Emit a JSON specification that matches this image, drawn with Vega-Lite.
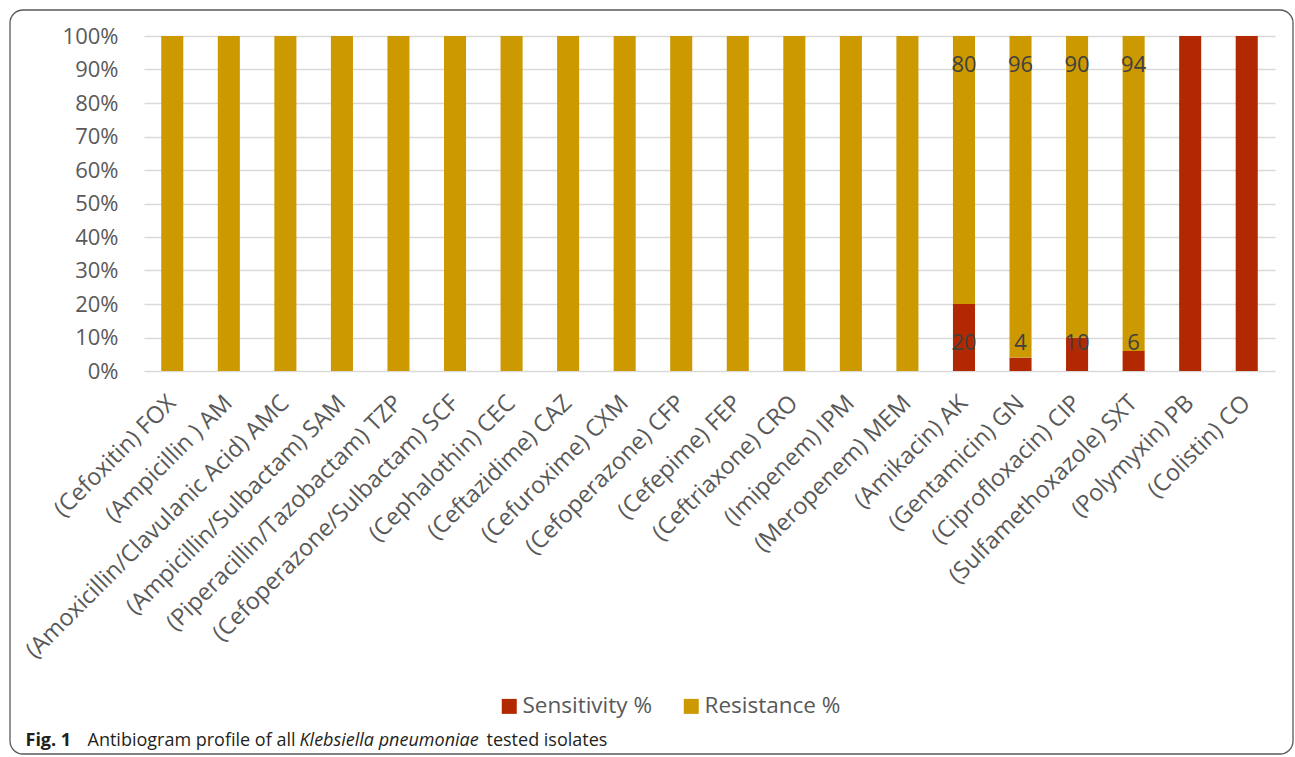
{
  "$schema": "https://vega.github.io/schema/vega-lite/v6.json",
  "width": 1131,
  "height": 335,
  "autosize": {"type": "none"},
  "padding": {"left": 144, "top": 36, "right": 20, "bottom": 386},
  "background": "white",
  "config": {
    "view": {"stroke": null},
    "font": "Open Sans",
    "axis": {"labelFont": "Open Sans", "titleFont": "Open Sans"}
  },
  "datasets": {
    "abx": [
      {"drug": "(Cefoxitin) FOX", "type": "Sensitivity %", "value": 0},
      {"drug": "(Cefoxitin) FOX", "type": "Resistance %", "value": 100},
      {"drug": "(Ampicillin ) AM", "type": "Sensitivity %", "value": 0},
      {"drug": "(Ampicillin ) AM", "type": "Resistance %", "value": 100},
      {"drug": "(Amoxicillin/Clavulanic Acid) AMC", "type": "Sensitivity %", "value": 0},
      {"drug": "(Amoxicillin/Clavulanic Acid) AMC", "type": "Resistance %", "value": 100},
      {"drug": "(Ampicillin/Sulbactam) SAM", "type": "Sensitivity %", "value": 0},
      {"drug": "(Ampicillin/Sulbactam) SAM", "type": "Resistance %", "value": 100},
      {"drug": "(Piperacillin/Tazobactam) TZP", "type": "Sensitivity %", "value": 0},
      {"drug": "(Piperacillin/Tazobactam) TZP", "type": "Resistance %", "value": 100},
      {"drug": "(Cefoperazone/Sulbactam) SCF", "type": "Sensitivity %", "value": 0},
      {"drug": "(Cefoperazone/Sulbactam) SCF", "type": "Resistance %", "value": 100},
      {"drug": "(Cephalothin) CEC", "type": "Sensitivity %", "value": 0},
      {"drug": "(Cephalothin) CEC", "type": "Resistance %", "value": 100},
      {"drug": "(Ceftazidime) CAZ", "type": "Sensitivity %", "value": 0},
      {"drug": "(Ceftazidime) CAZ", "type": "Resistance %", "value": 100},
      {"drug": "(Cefuroxime) CXM", "type": "Sensitivity %", "value": 0},
      {"drug": "(Cefuroxime) CXM", "type": "Resistance %", "value": 100},
      {"drug": "(Cefoperazone) CFP", "type": "Sensitivity %", "value": 0},
      {"drug": "(Cefoperazone) CFP", "type": "Resistance %", "value": 100},
      {"drug": "(Cefepime) FEP", "type": "Sensitivity %", "value": 0},
      {"drug": "(Cefepime) FEP", "type": "Resistance %", "value": 100},
      {"drug": "(Ceftriaxone) CRO", "type": "Sensitivity %", "value": 0},
      {"drug": "(Ceftriaxone) CRO", "type": "Resistance %", "value": 100},
      {"drug": "(Imipenem) IPM", "type": "Sensitivity %", "value": 0},
      {"drug": "(Imipenem) IPM", "type": "Resistance %", "value": 100},
      {"drug": "(Meropenem) MEM", "type": "Sensitivity %", "value": 0},
      {"drug": "(Meropenem) MEM", "type": "Resistance %", "value": 100},
      {"drug": "(Amikacin) AK", "type": "Sensitivity %", "value": 20},
      {"drug": "(Amikacin) AK", "type": "Resistance %", "value": 80},
      {"drug": "(Gentamicin) GN", "type": "Sensitivity %", "value": 4},
      {"drug": "(Gentamicin) GN", "type": "Resistance %", "value": 96},
      {"drug": "(Ciprofloxacin) CIP", "type": "Sensitivity %", "value": 10},
      {"drug": "(Ciprofloxacin) CIP", "type": "Resistance %", "value": 90},
      {"drug": "(Sulfamethoxazole) SXT", "type": "Sensitivity %", "value": 6},
      {"drug": "(Sulfamethoxazole) SXT", "type": "Resistance %", "value": 94},
      {"drug": "(Polymyxin) PB", "type": "Sensitivity %", "value": 100},
      {"drug": "(Polymyxin) PB", "type": "Resistance %", "value": 0},
      {"drug": "(Colistin) CO", "type": "Sensitivity %", "value": 100},
      {"drug": "(Colistin) CO", "type": "Resistance %", "value": 0}
    ]
  },
  "layer": [
    {
      "data": {"values": [{}]},
      "mark": {"type": "rect", "fill": null, "stroke": "#5a5a5a", "strokeWidth": 1.3, "cornerRadius": 13},
      "encoding": {
        "x": {"value": -134},
        "x2": {"value": 1149},
        "y": {"value": -26},
        "y2": {"value": 718}
      }
    },
    {
      "data": {"name": "abx"},
      "mark": {"type": "bar"},
      "encoding": {
        "x": {
          "field": "drug",
          "type": "nominal",
          "sort": null,
          "scale": {"paddingInner": 0.61, "paddingOuter": 0.305},
          "axis": {
            "title": "Fig. 1",
            "titleFontWeight": "bold",
            "titleFontSize": 18,
            "titleColor": "#231f20",
            "titleX": -119,
            "titleY": 374,
            "titleAlign": "left",
            "titleAnchor": null,
            "titleBaseline": "alphabetic",
            "titleAngle": 0,
            "labelAngle": -45,
            "labelAlign": "right",
            "labelBaseline": "middle",
            "labelFontSize": 23.5,
            "labelColor": "#595959",
            "labelPadding": 28,
            "labelLimit": 600,
            "domain": false,
            "ticks": false,
            "tickSize": 0,
            "grid": false
          }
        },
        "y": {
          "field": "value",
          "type": "quantitative",
          "stack": "normalize",
          "scale": {"domain": [0, 1], "nice": false},
          "axis": {
            "values": [0, 0.1, 0.2, 0.3, 0.4, 0.5, 0.6, 0.7, 0.8, 0.9, 1],
            "format": ".0%",
            "labelFontSize": 22,
            "labelColor": "#595959",
            "labelPadding": 26,
            "domain": false,
            "ticks": false,
            "tickSize": 0,
            "grid": true,
            "gridColor": "#d9d9d9",
            "gridWidth": 1.3,
            "title": "Antibiogram profile of all",
            "titleFontWeight": "normal",
            "titleFontSize": 18,
            "titleColor": "#231f20",
            "titleAngle": 0,
            "titleX": -57,
            "titleY": 709,
            "titleAlign": "left",
            "titleBaseline": "alphabetic"
          }
        },
        "color": {
          "field": "type",
          "type": "nominal",
          "sort": ["Sensitivity %", "Resistance %"],
          "scale": {"domain": ["Sensitivity %", "Resistance %"], "range": ["#b22800", "#cc9900"]},
          "legend": {
            "title": null,
            "orient": "none",
            "direction": "horizontal",
            "legendX": 354,
            "legendY": 659,
            "symbolType": "square",
            "symbolSize": 225,
            "symbolStrokeWidth": 0,
            "labelFont": "Open Sans",
            "labelFontSize": 22.5,
            "labelColor": "#595959",
            "labelOffset": 2,
            "columnPadding": 27,
            "labelLimit": 400
          }
        }
      }
    },
    {
      "data": {"name": "abx"},
      "transform": [{"filter": "datum.type === 'Resistance %' && datum.value > 0 && datum.value < 100"}],
      "mark": {"type": "text", "fontSize": 22, "color": "#404040", "baseline": "middle", "align": "center"},
      "encoding": {
        "x": {"field": "drug", "type": "nominal", "sort": null},
        "y": {
          "datum": 0.913,
          "type": "quantitative",
          "scale": {"domain": [0, 1], "nice": false},
          "axis": {
            "orient": "right",
            "labels": false,
            "ticks": false,
            "domain": false,
            "grid": false,
            "title": "Klebsiella pneumoniae",
            "titleFontStyle": "italic",
            "titleFontWeight": "normal",
            "titleFontSize": 18,
            "titleColor": "#231f20",
            "titleAngle": 0,
            "titleX": -976,
            "titleY": 709,
            "titleAlign": "left",
            "titleBaseline": "alphabetic"
          }
        },
        "text": {"field": "value", "type": "quantitative"}
      }
    },
    {
      "data": {"name": "abx"},
      "transform": [{"filter": "datum.type === 'Sensitivity %' && datum.value > 0 && datum.value < 100"}],
      "mark": {"type": "text", "fontSize": 22, "color": "#404040", "baseline": "middle", "align": "center"},
      "encoding": {
        "x": {"field": "drug", "type": "nominal", "sort": null},
        "y": {
          "datum": 0.083,
          "type": "quantitative",
          "scale": {"domain": [0, 1], "nice": false},
          "axis": {
            "orient": "right",
            "labels": false,
            "ticks": false,
            "domain": false,
            "grid": false,
            "title": "tested isolates",
            "titleFontWeight": "normal",
            "titleFontSize": 18,
            "titleColor": "#231f20",
            "titleAngle": 0,
            "titleX": -789,
            "titleY": 709,
            "titleAlign": "left",
            "titleBaseline": "alphabetic"
          }
        },
        "text": {"field": "value", "type": "quantitative"}
      }
    }
  ],
  "resolve": {"scale": {"y": "independent"}, "axis": {"y": "independent"}}
}
